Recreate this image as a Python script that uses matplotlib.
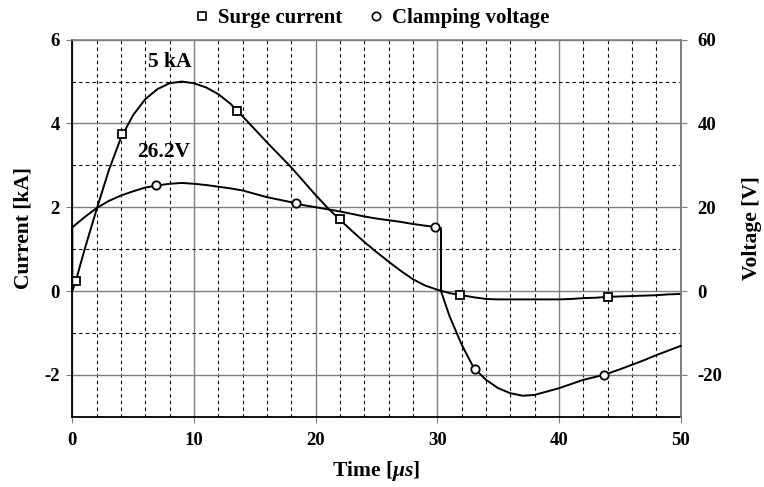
import matplotlib
matplotlib.use("Agg")
import matplotlib.pyplot as plt
from matplotlib.ticker import FixedLocator
from matplotlib.lines import Line2D

plt.rcParams['font.family'] = ['Liberation Serif', 'DejaVu Serif']
plt.rcParams['font.weight'] = 'bold'
plt.rcParams['axes.unicode_minus'] = False
plt.rcParams['mathtext.fontset'] = 'custom'
plt.rcParams['mathtext.it'] = 'Liberation Serif:italic'
plt.rcParams['mathtext.rm'] = 'Liberation Serif:bold'

# ---- data ----
t_current = [0, 0.3, 1, 2, 3, 4, 5, 6, 7, 8, 9, 10, 11, 12, 13, 14, 15, 16, 17, 18,
             19, 20, 21, 22, 23, 24, 25, 26, 27, 28, 29, 30, 31, 32, 33, 34, 35, 36,
             37, 38, 39, 40, 41, 42, 43, 44, 45, 46, 47, 48, 49, 50]
current_kA = [0, 0.25, 0.98, 1.95, 2.88, 3.66, 4.2, 4.58, 4.82, 4.96, 5.0, 4.96, 4.86,
              4.7, 4.47, 4.17, 3.86, 3.55, 3.25, 2.95, 2.62, 2.29, 1.98, 1.7, 1.43, 1.17,
              0.93, 0.7, 0.48, 0.28, 0.13, 0.03, -0.05, -0.1, -0.15, -0.19, -0.2, -0.2,
              -0.2, -0.2, -0.2, -0.2, -0.19, -0.17, -0.16, -0.14, -0.13, -0.12, -0.11,
              -0.1, -0.08, -0.07]

t_voltage = [0, 0, 1, 2, 3, 4, 5, 6, 7, 8, 9, 10, 11, 12, 13, 14, 15, 16, 17, 18, 19,
             20, 21, 22, 23, 24, 25, 26, 27, 28, 29, 29.8, 30.3, 30.3, 31, 32, 33, 34,
             35, 36, 37, 38, 39, 40, 41, 42, 43, 44, 45, 46, 47, 48, 49, 50]
voltage_V = [0, 15.2, 17.6, 19.8, 21.5, 22.8, 23.8, 24.7, 25.2, 25.6, 25.8, 25.6, 25.3,
             24.9, 24.5, 24.0, 23.2, 22.4, 21.8, 21.2, 20.5, 20.0, 19.5, 19.0, 18.4,
             17.8, 17.3, 16.9, 16.5, 16.0, 15.6, 15.3, 15.0, 0, -6.0, -12.8, -18.4,
             -21.2, -23.2, -24.4, -25.0, -24.8, -24.0, -23.2, -22.2, -21.2, -20.5,
             -19.7, -18.7, -17.6, -16.5, -15.3, -14.2, -13.1]

marker_t_current = [0.3, 4.1, 13.5, 22.0, 31.9, 44.0]
marker_current = [0.25, 3.75, 4.29, 1.71, -0.1, -0.14]
marker_t_voltage = [6.85, 18.4, 29.8, 33.1, 43.7]
marker_voltage = [25.2, 21.0, 15.3, -18.6, -20.0]

x_ticks = [0, 10, 20, 30, 40, 50]
left_ticks = [-2, 0, 2, 4, 6]
right_ticks = [-20, 0, 20, 40, 60]

# ---- figure ----
fig = plt.figure(figsize=(7.64, 4.87), dpi=100)
ax = fig.add_axes([0.0946, 0.1444, 0.7964, 0.7741])
ax2 = ax.twinx()

GRAY = '#7f7f7f'
ax.set_xlim(0, 50)
ax.set_ylim(-3, 6)
ax2.set_ylim(-30, 60)

ax.xaxis.set_major_locator(FixedLocator(x_ticks))
ax.xaxis.set_minor_locator(FixedLocator([v for v in range(2, 50, 2) if v % 10]))
ax.yaxis.set_major_locator(FixedLocator(left_ticks))
ax.yaxis.set_minor_locator(FixedLocator([-1, 1, 3, 5]))
ax.set_xticklabels([str(v) for v in x_ticks])
ax.set_yticklabels([str(v) for v in left_ticks])
ax2.yaxis.set_major_locator(FixedLocator(right_ticks))
ax2.set_yticklabels([str(v) for v in right_ticks])

ax.grid(which='major', color=GRAY, lw=1.0, ls='-')
ax.grid(which='minor', color='black', lw=0.8, ls=(0, (3, 3)))
ax.set_axisbelow(True)

ax.tick_params(axis='x', which='major', direction='out', length=4, color=GRAY,
               labelsize=13.5, pad=7)
ax.tick_params(axis='y', which='major', direction='out', length=4, color=GRAY,
               labelsize=13.5, pad=5)
ax.tick_params(axis='both', which='minor', length=0)
ax2.tick_params(axis='y', which='major', direction='out', length=4, color=GRAY,
                labelsize=13.5, pad=8)

for side in ['left', 'bottom']:
    ax.spines[side].set_color('black')
    ax.spines[side].set_linewidth(1.3)
for side in ['top', 'right']:
    ax.spines[side].set_color(GRAY)
    ax.spines[side].set_linewidth(1.2)
for side in ['left', 'bottom', 'top']:
    ax2.spines[side].set_visible(False)
ax2.spines['right'].set_color(GRAY)
ax2.spines['right'].set_linewidth(1.2)

ax.plot(t_current, current_kA, color='black', lw=1.4, zorder=3, clip_on=False)
ax.plot(marker_t_current, marker_current, ls='none', marker='s', ms=6,
        mfc='white', mec='black', mew=1.3, zorder=4)
ax2.plot(t_voltage, voltage_V, color='black', lw=1.4, zorder=3, clip_on=False)
ax2.plot(marker_t_voltage, marker_voltage, ls='none', marker='o', ms=6,
         mfc='white', mec='black', mew=1.3, zorder=4)

ax.text(8.0, 5.46, '5 kA', ha='center', va='center', fontsize=15.5, fontweight='bold')
ax.text(7.5, 3.32, '26.2V', ha='center', va='center', fontsize=15.5, fontweight='bold')

ax.set_ylabel('Current [kA]', fontsize=15.5, fontweight='bold', labelpad=8)
ax2.set_ylabel('Voltage [V]', fontsize=15.5, fontweight='bold', labelpad=14)
ax.set_xlabel(r'Time [$\mu s$]', fontsize=15.5, fontweight='bold', labelpad=7)

handles = [Line2D([], [], ls='none', marker='s', ms=6, mfc='white', mec='black', mew=1.2),
           Line2D([], [], ls='none', marker='o', ms=6, mfc='white', mec='black', mew=1.2)]
fig.legend(handles, ['Surge current', 'Clamping voltage'], loc='center',
           bbox_to_anchor=(0.487, 0.963), ncol=2, frameon=False,
           prop={'family': 'Liberation Serif', 'weight': 'bold', 'size': 15},
           handlelength=0.7, handletextpad=0.4, columnspacing=1.3)

fig.savefig('out.png', dpi=100)
